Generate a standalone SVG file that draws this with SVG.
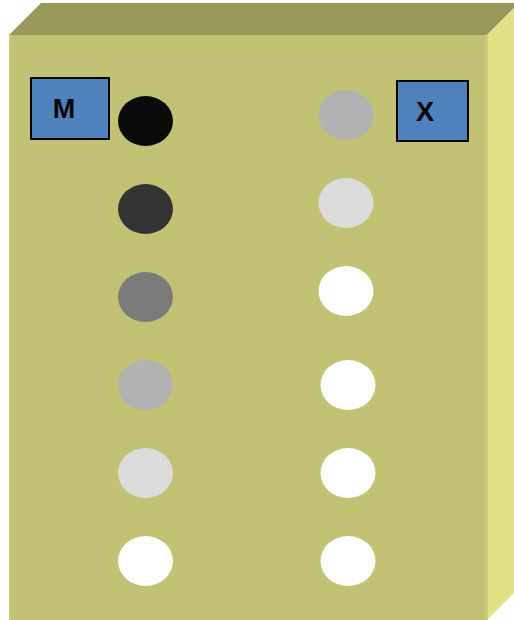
<svg xmlns="http://www.w3.org/2000/svg" width="514" height="620" viewBox="0 0 514 620">
<style>
.box{fill:#4F81BD;stroke:#000;stroke-width:2}
.lbl{font-family:"Liberation Sans",Arial,sans-serif;font-weight:bold;font-size:27px;fill:#000}
</style>
<rect width="514" height="620" fill="#fff"/>
<g id="block">
<polygon points="9,35 41,3 519,3 487,35" fill="#98985A"/>
<polygon points="487,35 519,3 519,588 487,620" fill="#E0E085"/>
<rect x="9" y="35" width="478" height="585" fill="#C2C274"/>
<rect x="9" y="35" width="2" height="585" fill="#CBCB80"/>
<rect x="485" y="35" width="3" height="585" fill="#CCCC7C"/>
</g>
<g id="M">
<rect class="box" x="31" y="78" width="78" height="61"/>
<text class="lbl" x="64" y="118" text-anchor="middle">M</text>
</g>
<g id="X">
<rect class="box" x="397" y="81" width="71" height="60"/>
<text class="lbl" x="425" y="121" text-anchor="middle">X</text>
</g>
<g id="left-circles">
<ellipse cx="145.5" cy="121" rx="27.5" ry="25" fill="#0A0A0A"/>
<ellipse cx="145.5" cy="209" rx="27.5" ry="25" fill="#333333"/>
<ellipse cx="145.5" cy="297" rx="27.5" ry="25" fill="#7B7B7B"/>
<ellipse cx="145.5" cy="385" rx="27.5" ry="25" fill="#B2B2B2"/>
<ellipse cx="145.5" cy="473" rx="27.5" ry="25" fill="#DCDCDC"/>
<ellipse cx="145.5" cy="561" rx="27.5" ry="25" fill="#FFFFFF"/>
</g>
<g id="right-circles">
<ellipse cx="346" cy="115" rx="27.5" ry="25" fill="#B2B2B2"/>
<ellipse cx="346" cy="203" rx="27.5" ry="25" fill="#DCDCDC"/>
<ellipse cx="346" cy="291" rx="27.5" ry="25" fill="#FFFFFF"/>
<ellipse cx="348" cy="385" rx="27.5" ry="25" fill="#FFFFFF"/>
<ellipse cx="348" cy="473" rx="27.5" ry="25" fill="#FFFFFF"/>
<ellipse cx="348" cy="561" rx="27.5" ry="25" fill="#FFFFFF"/>
</g>
<g id="connectors"></g>
</svg>
